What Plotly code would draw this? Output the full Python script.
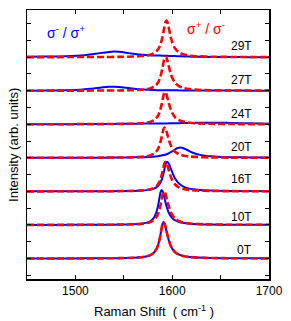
import plotly.graph_objects as go

# ---------------- data ----------------
FIELDS = ["0T", "10T", "16T", "20T", "24T", "27T", "29T"]
OFFSETS = [0, 1, 2, 3, 4, 5, 6]
LABEL_Y = [0.25, 1.25, 2.37, 3.31, 4.31, 5.31, 6.34]

# Raman shift grid (cm^-1) for the sharp G-band peaks
X_PEAK = [1450, 1480, 1510, 1530, 1545, 1560, 1568, 1574, 1578, 1581,
          1584, 1585, 1586, 1587, 1588, 1589, 1590, 1591, 1592, 1593,
          1594, 1595, 1596, 1597, 1598, 1599, 1600, 1603, 1607, 1612,
          1618, 1626, 1640, 1660, 1700]
# Raman shift grid for the broad sigma-/sigma+ features
X_BROAD = [1450, 1470, 1490, 1505, 1515, 1525, 1535, 1540, 1545, 1555,
           1565, 1575, 1585, 1590, 1595, 1600, 1605, 1610, 1615, 1620,
           1630, 1640, 1650, 1660, 1680, 1700]

# sigma+ / sigma- (red dashed), intensity above each baseline
red_0T = [0.0, 0.001, 0.003, 0.005, 0.009, 0.02, 0.037, 0.065, 0.107, 0.168,
          0.296, 0.365, 0.459, 0.579, 0.726, 0.888, 1.024, 1.08, 1.045, 0.954,
          0.833, 0.706, 0.591, 0.494, 0.413, 0.347, 0.294, 0.188, 0.115, 0.069,
          0.043, 0.026, 0.013, 0.007, 0.003]
red_10T = [0.0, 0.001, 0.003, 0.005, 0.008, 0.018, 0.032, 0.057, 0.092, 0.144,
           0.247, 0.304, 0.379, 0.477, 0.601, 0.748, 0.891, 0.987, 0.992, 0.931,
           0.829, 0.712, 0.599, 0.5, 0.417, 0.35, 0.295, 0.186, 0.112, 0.067,
           0.041, 0.025, 0.013, 0.006, 0.003]
red_16T = [0.0, 0.001, 0.002, 0.004, 0.007, 0.015, 0.025, 0.043, 0.067, 0.1,
           0.164, 0.197, 0.241, 0.299, 0.374, 0.472, 0.592, 0.723, 0.834, 0.88,
           0.852, 0.777, 0.678, 0.576, 0.482, 0.402, 0.336, 0.204, 0.118, 0.068,
           0.041, 0.024, 0.012, 0.006, 0.002]
red_20T = [0.0, 0.001, 0.002, 0.004, 0.007, 0.016, 0.028, 0.049, 0.078, 0.119,
           0.202, 0.247, 0.305, 0.383, 0.482, 0.605, 0.74, 0.853, 0.9, 0.871,
           0.795, 0.694, 0.589, 0.493, 0.411, 0.344, 0.289, 0.18, 0.107, 0.063,
           0.039, 0.023, 0.012, 0.006, 0.002]
red_24T = [0.0, 0.001, 0.003, 0.005, 0.008, 0.017, 0.029, 0.049, 0.078, 0.118,
           0.196, 0.237, 0.292, 0.364, 0.458, 0.577, 0.718, 0.855, 0.947, 0.952,
           0.894, 0.796, 0.684, 0.575, 0.48, 0.4, 0.336, 0.206, 0.121, 0.071,
           0.043, 0.025, 0.013, 0.006, 0.003]
red_27T = [0.0, 0.001, 0.003, 0.005, 0.008, 0.017, 0.029, 0.05, 0.077, 0.116,
           0.19, 0.228, 0.279, 0.346, 0.434, 0.547, 0.685, 0.838, 0.967, 1.02,
           0.987, 0.901, 0.786, 0.667, 0.559, 0.466, 0.39, 0.237, 0.137, 0.079,
           0.047, 0.028, 0.014, 0.007, 0.003]
red_29T = [0.0, 0.002, 0.003, 0.005, 0.009, 0.019, 0.032, 0.053, 0.08, 0.117,
           0.183, 0.218, 0.262, 0.318, 0.392, 0.488, 0.609, 0.754, 0.91, 1.039,
           1.09, 1.049, 0.94, 0.801, 0.665, 0.545, 0.447, 0.257, 0.141, 0.078,
           0.045, 0.026, 0.013, 0.006, 0.002]

# sigma- / sigma+ (blue solid)
blue_0T = [0.0, 0.001, 0.003, 0.005, 0.009, 0.02, 0.037, 0.065, 0.107, 0.168,
           0.296, 0.365, 0.459, 0.579, 0.726, 0.888, 1.024, 1.08, 1.045, 0.954,
           0.833, 0.706, 0.591, 0.494, 0.413, 0.347, 0.294, 0.188, 0.115, 0.069,
           0.043, 0.026, 0.013, 0.007, 0.003]
blue_10T = [0.0, 0.001, 0.003, 0.005, 0.009, 0.019, 0.036, 0.069, 0.122, 0.208,
            0.406, 0.52, 0.666, 0.832, 0.979, 1.04, 1.007, 0.918, 0.802, 0.68,
            0.57, 0.475, 0.397, 0.334, 0.283, 0.241, 0.208, 0.139, 0.089, 0.056,
            0.036, 0.022, 0.012, 0.006, 0.003]
blue_16T = [0.0, 0.001, 0.002, 0.004, 0.007, 0.013, 0.023, 0.037, 0.056, 0.081,
            0.127, 0.15, 0.18, 0.217, 0.268, 0.334, 0.42, 0.529, 0.658, 0.784,
            0.868, 0.876, 0.846, 0.792, 0.723, 0.647, 0.572, 0.385, 0.233, 0.136,
            0.081, 0.047, 0.023, 0.011, 0.004]
blue_20T = [0.001, 0.002, 0.002, 0.003, 0.004, 0.004, 0.006, 0.007, 0.008, 0.011,
            0.016, 0.026, 0.049, 0.073, 0.115, 0.189, 0.284, 0.303, 0.24, 0.167,
            0.08, 0.044, 0.027, 0.018, 0.01, 0.006]
blue_24T = [0.0, 0.0, 0.002, 0.004, 0.006, 0.008, 0.01, 0.011, 0.012, 0.015,
            0.018, 0.02, 0.022, 0.024, 0.026, 0.028, 0.031, 0.034, 0.037, 0.04,
            0.045, 0.048, 0.046, 0.04, 0.028, 0.018]
blue_27T = [0.0, 0.005, 0.012, 0.03, 0.055, 0.09, 0.118, 0.12, 0.113, 0.08,
            0.045, 0.025, 0.016, 0.014, 0.012, 0.011, 0.01, 0.009, 0.008, 0.007,
            0.005, 0.004, 0.003, 0.003, 0.002, 0.002]
blue_29T = [0.015, 0.02, 0.03, 0.05, 0.08, 0.12, 0.155, 0.165, 0.16, 0.12,
            0.08, 0.06, 0.05, 0.045, 0.04, 0.035, 0.03, 0.025, 0.02, 0.015,
            0.01, 0.005, 0.003, 0.002, 0.0, 0.0]

BLUE = [(X_PEAK, blue_0T), (X_PEAK, blue_10T), (X_PEAK, blue_16T),
        (X_BROAD, blue_20T), (X_BROAD, blue_24T), (X_BROAD, blue_27T),
        (X_BROAD, blue_29T)]
RED = [red_0T, red_10T, red_16T, red_20T, red_24T, red_27T, red_29T]

# ---------------- figure ----------------
FONT = "Liberation Sans, Arial, sans-serif"
fig = go.Figure()

for (xs, ys), off in zip(BLUE, OFFSETS):
    fig.add_trace(go.Scatter(x=xs, y=[v + off for v in ys], mode="lines",
                             line=dict(color="#0000ff", width=2, shape="spline", smoothing=0.8),
                             hoverinfo="skip"))
for ys, off in zip(RED, OFFSETS):
    fig.add_trace(go.Scatter(x=X_PEAK, y=[v + off for v in ys], mode="lines",
                             line=dict(color="#ff0000", width=2.6, dash="7px,3px",
                                       shape="spline", smoothing=0.8),
                             hoverinfo="skip"))

annotations = []
for name, ly in zip(FIELDS, LABEL_Y):
    annotations.append(dict(x=1685, y=ly, xref="x", yref="y", text=name, showarrow=False,
                            xanchor="right", yanchor="middle",
                            font=dict(family=FONT, size=12, color="black")))
annotations.append(dict(x=1490.5, y=6.74, xref="x", yref="y",
                        text="σ<sup>-</sup> / σ<sup>+</sup>", showarrow=False,
                        xanchor="center", yanchor="middle",
                        font=dict(family=FONT, size=14, color="#0000ff")))
annotations.append(dict(x=1635.2, y=6.86, xref="x", yref="y",
                        text="σ<sup>+</sup> / σ<sup>-</sup>", showarrow=False,
                        xanchor="center", yanchor="middle",
                        font=dict(family=FONT, size=14, color="#ff0000")))
annotations.append(dict(x=0.525, y=-0.12, xref="paper", yref="paper",
                        text="Raman Shift\u00a0 (\u00a0cm<sup>-1</sup>\u00a0)", showarrow=False,
                        xanchor="center", yanchor="middle",
                        font=dict(family=FONT, size=13, color="black")))
annotations.append(dict(x=-0.056, y=0.5, xref="paper", yref="paper",
                        text="Intensity (arb. units)", showarrow=False, textangle=-90,
                        xanchor="center", yanchor="middle",
                        font=dict(family=FONT, size=13, color="black")))

fig.update_layout(
    width=291, height=321,
    margin=dict(l=27, r=19, t=8, b=42),
    plot_bgcolor="white", paper_bgcolor="white",
    showlegend=False,
    hovermode=False,
    annotations=annotations,
    xaxis=dict(range=[1450, 1700], tick0=1500, dtick=100,
               ticks="inside", ticklen=4, tickwidth=1, tickcolor="black",
               minor=dict(dtick=50, tick0=1450, ticks="inside", ticklen=4,
                          tickwidth=1, tickcolor="black", showgrid=False),
               showline=True, linecolor="black", linewidth=1.5, mirror="ticks",
               showgrid=False, zeroline=False,
               tickfont=dict(family=FONT, size=12, color="black")),
    yaxis=dict(range=[-0.612, 7.405], tick0=0, dtick=0.5,
               ticks="inside", ticklen=4, tickwidth=1, tickcolor="black",
               showticklabels=False,
               showline=True, linecolor="black", linewidth=1.5, mirror="ticks",
               showgrid=False, zeroline=False),
)

fig.write_html("out.html",
               config={"displayModeBar": False, "staticPlot": True},
               post_script="document.body.style.margin='0';document.body.style.padding='0';")
